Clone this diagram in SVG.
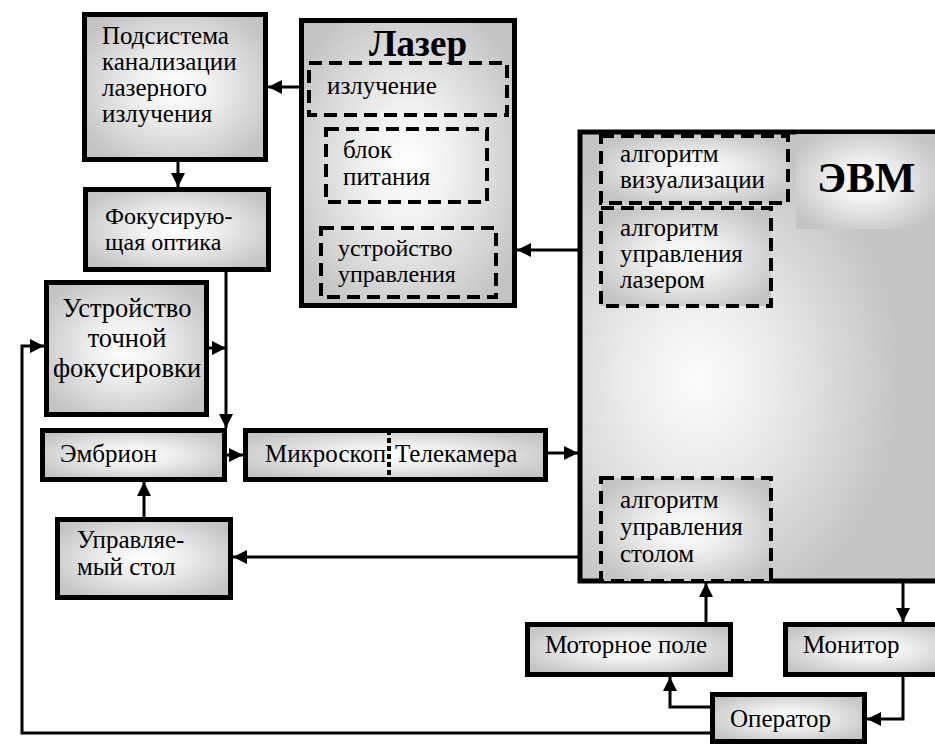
<svg xmlns="http://www.w3.org/2000/svg" width="935" height="744" viewBox="0 0 935 744" font-family="Liberation Serif, Times New Roman, serif">
<defs>
<radialGradient id="g" cx="50%" cy="50%" r="60%">
<stop offset="0" stop-color="#ffffff"/>
<stop offset="0.35" stop-color="#f0f0f0"/>
<stop offset="1" stop-color="#c4c4c4"/>
</radialGradient>
<radialGradient id="gb" cx="32%" cy="55%" r="55%">
<stop offset="0" stop-color="#fcfcfc"/>
<stop offset="0.35" stop-color="#ececec"/>
<stop offset="1" stop-color="#c4c4c4"/>
</radialGradient>
<marker id="ah" markerUnits="userSpaceOnUse" markerWidth="14" markerHeight="14" viewBox="0 0 14 14" refX="14" refY="7" orient="auto">
<path d="M0,0 L14,7 L0,14 z" fill="#000"/>
</marker>
<style>
.box{fill:url(#g);stroke:#000;stroke-width:5}
.dash{fill:none;stroke:#000;stroke-width:4;stroke-dasharray:13 7}
.dashf{fill:url(#g);stroke:#000;stroke-width:4;stroke-dasharray:13 7}
.t{font-family:"Liberation Serif","Times New Roman",serif;font-size:25px;fill:#000}
.ts{font-family:"Liberation Serif","Times New Roman",serif;font-size:24px;fill:#000}
.tc{font-family:"Liberation Serif","Times New Roman",serif;font-size:26.5px;fill:#000;text-anchor:middle}
.tb{font-family:"Liberation Serif","Times New Roman",serif;font-weight:bold;fill:#000}
.c{fill:none;stroke:#000;stroke-width:3;marker-end:url(#ah)}
</style>
</defs>

<g id="evm">
<rect class="box" x="580" y="132" width="370" height="449" style="fill:url(#gb)"/>
<rect x="796" y="134" width="139" height="95" fill="url(#g)"/>
<text class="tb" x="817" y="192" font-size="43">ЭВМ</text>
</g>
<g id="alg-vis">
<rect class="dashf" x="601" y="136" width="187" height="67"/>
<text class="t" x="620" y="162">алгоритм</text>
<text class="t" x="620" y="188">визуализации</text>
</g>
<g id="alg-laser">
<rect class="dashf" x="601" y="208" width="170" height="98"/>
<text class="t" x="620" y="236">алгоритм</text>
<text class="t" x="620" y="262">управления</text>
<text class="t" x="620" y="288">лазером</text>
</g>
<g id="alg-table">
<rect class="dashf" x="601" y="478" width="170" height="103"/>
<text class="t" x="620" y="508">алгоритм</text>
<text class="t" x="620" y="535">управления</text>
<text class="t" x="620" y="562">столом</text>
</g>

<g id="podsistema">
<rect class="box" x="84.5" y="14.5" width="181" height="145"/>
<text class="t" x="102" y="44">Подсистема</text>
<text class="t" x="102" y="70">канализации</text>
<text class="t" x="102" y="96">лазерного</text>
<text class="t" x="102" y="122">излучения</text>
</g>

<g id="laser">
<rect class="box" x="301.5" y="20.5" width="213" height="285"/>
<text class="tb" x="418" y="56" font-size="37" text-anchor="middle">Лазер</text>
</g>
<g id="izluchenie">
<rect class="dash" x="309" y="63" width="198" height="52"/>
<text class="t" x="327" y="94">излучение</text>
</g>
<g id="blok">
<rect class="dash" x="326" y="129" width="161" height="73"/>
<text class="t" x="343" y="158">блок</text>
<text class="t" x="343" y="185">питания</text>
</g>
<g id="ustr-upr">
<rect class="dash" x="321" y="228" width="175" height="69"/>
<text class="ts" x="338" y="256">устройство</text>
<text class="ts" x="338" y="282">управления</text>
</g>

<g id="fokus">
<rect class="box" x="85.5" y="189.5" width="183" height="80"/>
<text class="ts" x="105" y="224">Фокусирую-</text>
<text class="ts" x="105" y="250">щая оптика</text>
</g>

<g id="tochnoi">
<rect class="box" x="46.5" y="282.5" width="160" height="132"/>
<text class="tc" x="127" y="317">Устройство</text>
<text class="tc" x="127" y="347">точной</text>
<text class="tc" x="127" y="377">фокусировки</text>
</g>

<g id="embrion">
<rect class="box" x="42.5" y="430.5" width="182" height="49"/>
<text class="t" x="60" y="462">Эмбрион</text>
</g>

<g id="mikroskop">
<rect class="box" x="245.5" y="430.5" width="300" height="49"/>
<line x1="389" y1="430" x2="389" y2="480" stroke="#000" stroke-width="4" stroke-dasharray="5 3"/>
<text class="t" x="265" y="462">Микроскоп</text>
<text class="t" x="395" y="462">Телекамера</text>
</g>

<g id="stol">
<rect class="box" x="57.5" y="519.5" width="173" height="78"/>
<text class="t" x="77" y="548">Управляе-</text>
<text class="t" x="77" y="575">мый стол</text>
</g>

<g id="motor">
<rect class="box" x="527.5" y="624.5" width="203" height="50"/>
<text class="t" x="545" y="653">Моторное поле</text>
</g>

<g id="monitor">
<rect class="box" x="785.5" y="624.5" width="170" height="50"/>
<text class="t" x="803" y="653">Монитор</text>
</g>

<g id="operator">
<rect class="box" x="712.5" y="694.5" width="152" height="47"/>
<text class="t" x="730" y="727">Оператор</text>
</g>

<g id="connectors">
<path class="c" d="M301,87 H268"/>
<path class="c" d="M178,162 V187"/>
<path class="c" d="M226,272 V428"/>
<path class="c" d="M209,348 H226"/>
<path class="c" d="M710,733 H22 V346 H44"/>
<path class="c" d="M227,455 H243"/>
<path class="c" d="M548,453 H578"/>
<path class="c" d="M578,557 H233"/>
<path class="c" d="M144,517 V482"/>
<path class="c" d="M578,250 H517"/>
<path class="c" d="M706,622 V583"/>
<path class="c" d="M903,583 V622"/>
<path class="c" d="M903,677 V719 H867"/>
<path class="c" d="M710,707 H670 V677"/>
</g>
</svg>
